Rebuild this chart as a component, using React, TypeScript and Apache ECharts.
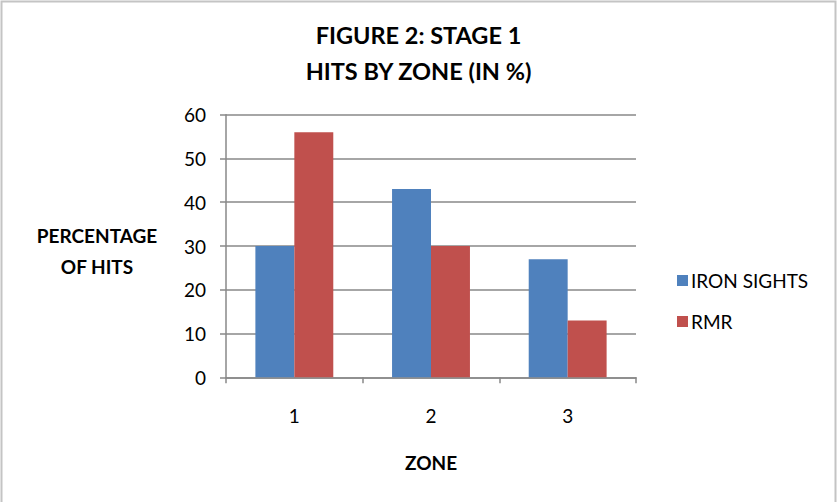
import React, { useEffect, useRef } from "react";
import * as echarts from "echarts";

const zones = ["1", "2", "3"];
const ironSights = [30, 43, 27];
const rmr = [56, 30, 13];
const titleLines = ["FIGURE 2: STAGE 1", "HITS BY ZONE (IN %)"];
const yAxisTitle = "PERCENTAGE\nOF HITS";
const xAxisTitle = "ZONE";
const seriesNames = ["IRON SIGHTS", "RMR"];

const FONT = "Lato, 'Open Sans', sans-serif";

export default function App() {
  const ref = useRef<HTMLDivElement>(null);
  useEffect(() => {
    document.body.style.margin = "0";
    const chart = echarts.init(ref.current!, undefined, { renderer: "svg" });
    chart.setOption({
      animation: false,
      backgroundColor: "#ffffff",
      title: {
        text: titleLines.join("\n"),
        left: "center",
        top: 12,
        textStyle: {
          fontFamily: FONT,
          fontWeight: "bold",
          fontSize: 23.5,
          lineHeight: 36,
          color: "#000",
        },
      },
      graphic: [
        {
          type: "rect",
          shape: { x: 1.5, y: 1.5, width: 834, height: 520 },
          style: { fill: "none", stroke: "#c4c4c4", lineWidth: 2 },
          silent: true,
        },
        {
          type: "text",
          x: 97,
          y: 251,
          style: {
            text: yAxisTitle,
            fontFamily: FONT,
            fontWeight: "bold",
            fontSize: 19,
            lineHeight: 31,
            fill: "#000",
            textAlign: "center",
            textVerticalAlign: "middle",
          },
        },
      ],
      legend: {
        orient: "vertical",
        left: 672,
        top: 266,
        itemWidth: 11,
        itemHeight: 11,
        itemGap: 22,
        icon: "rect",
        textStyle: { fontFamily: FONT, fontSize: 19, color: "#000", padding: [0, 0, 0, -2] },
        data: seriesNames,
      },
      grid: { left: 226, right: 201, top: 114.7, bottom: 124.7, containLabel: false },
      xAxis: {
        type: "category",
        data: zones,
        name: xAxisTitle,
        nameLocation: "middle",
        nameGap: 76,
        nameTextStyle: { fontFamily: FONT, fontWeight: "bold", fontSize: 19, color: "#000" },
        axisLine: { lineStyle: { color: "#888", width: 1.5 } },
        axisTick: { show: true, length: 6, inside: false, lineStyle: { color: "#888", width: 1.5 } },
        axisLabel: { fontFamily: FONT, fontSize: 19, color: "#000", margin: 29 },
      },
      yAxis: {
        type: "value",
        min: 0,
        max: 60,
        interval: 10,
        axisLine: { show: true, lineStyle: { color: "#888", width: 1.5 } },
        axisTick: { show: true, length: 6, lineStyle: { color: "#888", width: 1.5 } },
        axisLabel: { fontFamily: FONT, fontSize: 19, color: "#000", margin: 20 },
        splitLine: { show: true, lineStyle: { color: "#888", width: 1.5 } },
      },
      series: [
        {
          name: seriesNames[0],
          type: "bar",
          data: ironSights,
          itemStyle: { color: "#4F81BD" },
          barGap: "0%",
          barCategoryGap: "43%",
        },
        {
          name: seriesNames[1],
          type: "bar",
          data: rmr,
          itemStyle: { color: "#C0504D" },
          barGap: "0%",
          barCategoryGap: "43%",
        },
      ],
    });
    return () => chart.dispose();
  }, []);
  return <div ref={ref} style={{ width: 837, height: 502 }} />;
}
